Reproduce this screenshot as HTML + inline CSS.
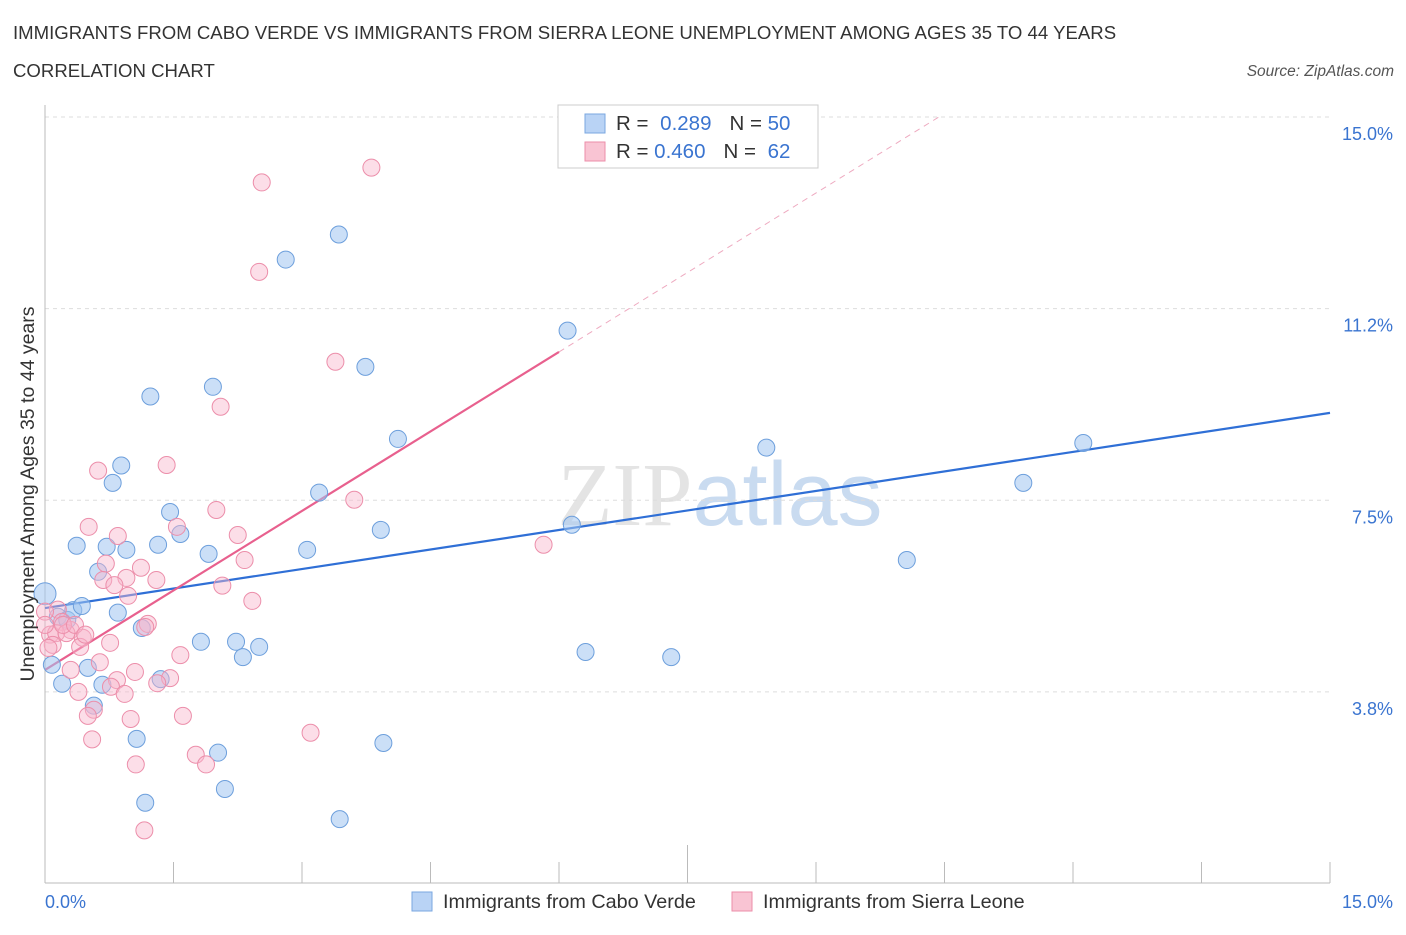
<!DOCTYPE html>
<html><head><meta charset="utf-8"><style>
body{margin:0;background:#fff;font-family:"Liberation Sans",sans-serif;}
</style></head><body>
<svg id="chart" width="1406" height="930" xmlns="http://www.w3.org/2000/svg" font-family="Liberation Sans, sans-serif">
<text x="13" y="39" font-size="18.6" fill="#333">IMMIGRANTS FROM CABO VERDE VS IMMIGRANTS FROM SIERRA LEONE UNEMPLOYMENT AMONG AGES 35 TO 44 YEARS</text>
<text x="13" y="77" font-size="18.6" fill="#333">CORRELATION CHART</text>
<text x="1394" y="76" font-size="15.5" fill="#555" font-style="italic" text-anchor="end">Source: ZipAtlas.com</text>
<text x="720" y="525" font-size="90" fill="#e4e4e4" text-anchor="middle" font-family="Liberation Serif, serif">ZIP<tspan fill="#c9dbf0" font-family="Liberation Sans, sans-serif">atlas</tspan></text>
<g id="grid"></g>
<g id="axes"></g>
<g id="lines"></g>
<g id="dots"></g>
<text transform="translate(34,494) rotate(-90)" font-size="19.5" fill="#333" text-anchor="middle">Unemployment Among Ages 35 to 44 years</text>
<g>
<rect x="558" y="105" width="260" height="63" fill="#fff" stroke="#ccc"/>
<rect x="585" y="114" width="20" height="19" fill="#b9d3f5" stroke="#7aa7e0"/>
<rect x="585" y="142" width="20" height="19" fill="#f9c4d3" stroke="#ec8eaa"/>
<text x="616" y="130" font-size="20.5" fill="#333">R = <tspan fill="#3a74d0" dx="6">0.289</tspan><tspan fill="#333" dx="18">N = </tspan><tspan fill="#3a74d0">50</tspan></text>
<text x="616" y="158" font-size="20.5" fill="#333">R = <tspan fill="#3a74d0">0.460</tspan><tspan fill="#333" dx="18">N = </tspan><tspan fill="#3a74d0" dx="6">62</tspan></text>
</g>
<g>
<rect x="412" y="892" width="20" height="19" fill="#b9d3f5" stroke="#7aa7e0"/>
<text x="443" y="908" font-size="19.8" fill="#333">Immigrants from Cabo Verde</text>
<rect x="732" y="892" width="20" height="19" fill="#f9c4d3" stroke="#ec8eaa"/>
<text x="763" y="908" font-size="19.8" fill="#333">Immigrants from Sierra Leone</text>
</g>
</svg>
<script>
const yTicks=[15.0,11.25,7.5,3.75];
const yTickLabels=["15.0%","11.2%","7.5%","3.8%"];
const xTickValues=[0,1.5,3,4.5,6,7.5,9,10.5,12,13.5,15];
const xLabels=["0.0%","15.0%"];
const blueX=[0,0.08,0.20,0.15,0.26,0.33,0.43,0.37,0.50,0.57,0.62,0.67,0.72,0.79,0.85,0.89,0.95,1.07,1.13,1.17,1.23,1.32,1.35,1.46,1.58,1.82,1.91,1.96,2.02,2.10,2.23,2.31,2.50,2.81,3.06,3.20,3.43,3.44,3.74,3.92,3.95,4.12,6.10,6.15,6.31,7.31,8.42,10.06,11.42,12.12];
const blueY=[5.67,4.28,3.91,5.22,5.16,5.35,5.43,6.61,4.22,3.48,6.10,3.89,6.59,7.84,5.30,8.18,6.53,2.83,5.00,1.58,9.53,6.63,4.00,7.27,6.84,4.73,6.45,9.72,2.56,1.85,4.73,4.43,4.63,12.21,6.53,7.65,12.70,1.26,10.11,6.92,2.75,8.70,10.82,7.02,4.53,4.43,8.53,6.33,7.84,8.62];
const pinkX=[2.53,3.81,2.50,3.39,2.05,1.42,0.62,3.61,2.00,0.51,1.54,0.85,2.25,2.33,0.71,1.12,0.95,1.30,0.68,0.81,2.07,0.97,2.42,0.15,0,0.20,1.20,1.17,0.30,0.06,0.13,0.25,0.44,0.41,0.76,0.09,1.58,0.64,0.30,1.05,0.84,1.46,1.31,0.77,0.39,0.93,0.57,0.50,1.61,1.00,3.10,0.55,1.76,1.88,1.06,1.16,5.82,0.04,0.21,0.35,0.47,0.0];
const pinkY=[13.72,14.01,11.97,10.21,9.33,8.19,8.08,7.51,7.31,6.98,6.98,6.80,6.82,6.33,6.26,6.18,5.98,5.94,5.94,5.84,5.83,5.63,5.53,5.36,5.32,5.12,5.08,5.02,4.96,4.87,4.90,4.90,4.81,4.63,4.71,4.67,4.47,4.33,4.18,4.14,3.98,4.02,3.92,3.85,3.75,3.71,3.40,3.28,3.28,3.22,2.95,2.82,2.52,2.33,2.33,1.04,6.63,4.61,5.06,5.06,4.87,5.06];
const blueTrend=[5.39,9.21];
const pinkTrend=[4.18,1.037];

const NS="http://www.w3.org/2000/svg";
const X0=45,X1=1330,Y0=883.5,Y15=117;
const xs=v=>X0+(X1-X0)*v/15;
const ys=v=>Y0-(Y0-Y15)*v/15;
function mk(tag,attrs,parent){const e=document.createElementNS(NS,tag);for(const k in attrs)e.setAttribute(k,attrs[k]);document.getElementById(parent).appendChild(e);return e;}

yTicks.forEach((t,i)=>{
  const l=mk('line',{x1:45,x2:1330,y1:ys(t),y2:ys(t),stroke:'#ddd','stroke-dasharray':'4,4'},'grid');
  
  
  const tx=mk('text',{x:1393,y:ys(t)+23,'font-size':18,fill:'#3a74d0','text-anchor':'end'},'axes');
  tx.textContent=yTickLabels[i];
  
  
});
const ya=mk('line',{x1:45,x2:45,y1:105,y2:883,stroke:'#bbb'},'axes');


const xa=mk('line',{x1:45,x2:1330,y1:883,y2:883,stroke:'#bbb'},'axes');


xTickValues.forEach(v=>{
  const t=mk('line',{x1:xs(v),x2:xs(v),y1:v===7.5?845:862,y2:883,stroke:'#bbb'},'axes');
  
  
});
const xl0=mk('text',{x:45,y:908,'font-size':18,fill:'#3a74d0'},'axes');xl0.textContent=xLabels[0];


const xl1=mk('text',{x:1393,y:908,'font-size':18,fill:'#3a74d0','text-anchor':'end'},'axes');xl1.textContent=xLabels[1];



blueX.forEach((x,i)=>{
  const c=mk('circle',{cx:xs(x),cy:ys(blueY[i]),r:i===0?11:8.5,fill:'rgba(160,196,240,0.55)',stroke:'#6d9fdc','stroke-width':1},'dots');
  
  
});
pinkX.forEach((x,i)=>{
  const c=mk('circle',{cx:xs(x),cy:ys(pinkY[i]),r:8.5,fill:'rgba(248,182,203,0.45)',stroke:'#ec8eaa','stroke-width':1},'dots');
  
  
});
const bl=mk('line',{x1:xs(0),y1:ys(blueTrend[0]),x2:xs(15),y2:ys(blueTrend[1]),stroke:'#2f6fd6','stroke-width':2.2},'lines');


const pEnd=6.0, pDash=(15-pinkTrend[0])/pinkTrend[1];
const pl=mk('line',{x1:xs(0),y1:ys(pinkTrend[0]),x2:xs(pEnd),y2:ys(pinkTrend[0]+pinkTrend[1]*pEnd),stroke:'#e8608e','stroke-width':2.2},'lines');


const pd=mk('line',{x1:xs(pEnd),y1:ys(pinkTrend[0]+pinkTrend[1]*pEnd),x2:xs(pDash),y2:ys(15),stroke:'#eeaac0','stroke-width':1,'stroke-dasharray':'6,5'},'lines');


</script>
</body></html>
